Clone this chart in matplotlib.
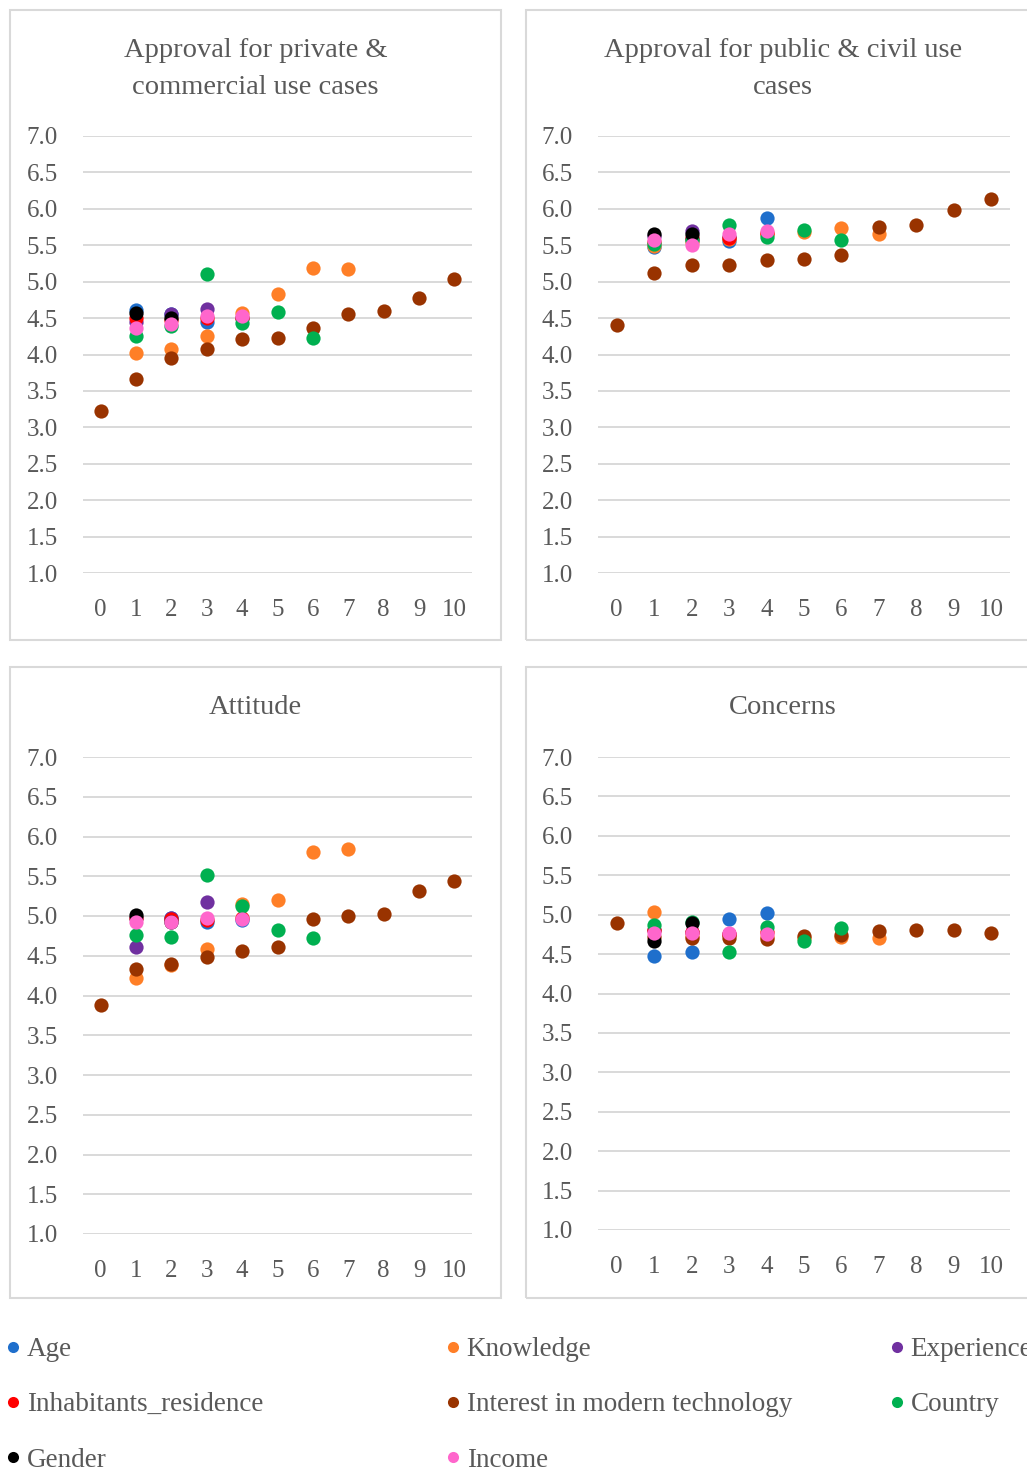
import matplotlib.pyplot as plt
from matplotlib.patches import Rectangle
from matplotlib.lines import Line2D

# panel titles
titles = ['Approval for private &\ncommercial use cases',
          'Approval for public & civil use\ncases',
          'Attitude',
          'Concerns']

series_names = ['Age', 'Knowledge', 'Experience', 'Inhabitants_residence',
                'Interest in modern technology', 'Country', 'Gender', 'Income']
colors = ['#1F6FCC', '#FF7F27', '#7030A0', '#FF0000',
          '#993300', '#00B050', '#000000', '#FF66CC']

# category positions of each grouping variable
age_x = [1, 2, 3, 4]
knowledge_x = [1, 2, 3, 4, 5, 6, 7]
experience_x = [1, 2, 3]
inhabitants_x = [1, 2, 3, 4]
interest_x = [0, 1, 2, 3, 4, 5, 6, 7, 8, 9, 10]
country_x = [1, 2, 3, 4, 5, 6]
gender_x = [1, 2]
income_x = [1, 2, 3, 4]

# mean values, one row per panel (private, public, attitude, concerns)
age = [[4.61, 4.55, 4.45, 4.50],
       [5.47, 5.58, 5.56, 5.88],
       [4.98, 4.97, 4.93, 4.95],
       [4.47, 4.53, 4.94, 5.02]]
knowledge = [[4.02, 4.08, 4.25, 4.57, 4.83, 5.19, 5.17],
             [5.49, 5.55, 5.59, 5.66, 5.68, 5.73, 5.66],
             [4.22, 4.38, 4.58, 5.15, 5.20, 5.81, 5.84],
             [5.04, 4.73, 4.74, 4.72, 4.71, 4.72, 4.70]]
experience = [[4.45, 4.55, 4.63],
              [5.63, 5.69, 5.62],
              [4.61, 4.98, 5.17],
              [4.80, 4.78, 4.76]]
inhabitants = [[4.50, 4.47, 4.50, 4.50],
               [5.55, 5.60, 5.60, 5.67],
               [4.97, 4.96, 4.95, 4.97],
               [4.80, 4.78, 4.75, 4.78]]
interest = [[3.23, 3.66, 3.95, 4.07, 4.21, 4.23, 4.37, 4.55, 4.60, 4.77, 5.03],
            [4.41, 5.12, 5.23, 5.23, 5.30, 5.31, 5.37, 5.75, 5.78, 5.98, 6.14],
            [3.88, 4.33, 4.40, 4.49, 4.56, 4.61, 4.96, 5.00, 5.02, 5.31, 5.44],
            [4.89, 4.72, 4.70, 4.71, 4.69, 4.73, 4.74, 4.79, 4.80, 4.81, 4.77]]
country = [[4.25, 4.39, 5.10, 4.43, 4.59, 4.23],
           [5.52, 5.57, 5.78, 5.62, 5.71, 5.57],
           [4.76, 4.73, 5.52, 5.12, 4.83, 4.72],
           [4.87, 4.91, 4.53, 4.84, 4.67, 4.83]]
gender = [[4.57, 4.50],
          [5.66, 5.65],
          [5.01, 4.93],
          [4.66, 4.89]]
income = [[4.37, 4.42, 4.53, 4.53],
          [5.57, 5.50, 5.65, 5.69],
          [4.92, 4.93, 4.98, 4.96],
          [4.77, 4.77, 4.77, 4.75]]

xs = [age_x, knowledge_x, experience_x, inhabitants_x, interest_x, country_x, gender_x, income_x]
ys = [age, knowledge, experience, inhabitants, interest, country, gender, income]

yticks = [1.0, 1.5, 2.0, 2.5, 3.0, 3.5, 4.0, 4.5, 5.0, 5.5, 6.0, 6.5, 7.0]
xticks = list(range(11))

W, H = 1027, 1470
TXT = '#595959'
GRID = '#D9D9D9'
plt.rcParams['font.family'] = ['Liberation Serif', 'DejaVu Serif']

fig = plt.figure(figsize=(W / 100, H / 100), dpi=100)

# axes rectangles in pixels: left, top, right, bottom (grid area)
ax_px = [(83, 136, 472, 573), (598, 136, 1010, 573),
         (83, 757, 472, 1234), (598, 757, 1010, 1230)]
# panel frames in pixels
box_px = [(10, 10, 501, 640), (526, 10, 1040, 640),
          (10, 667, 501, 1298), (526, 667, 1040, 1298)]
title_y = [69, 69, 708, 708]

for i in range(4):
    bx0, by0, bx1, by1 = box_px[i]
    fig.patches.append(Rectangle((bx0 / W, 1 - by1 / H), (bx1 - bx0) / W, (by1 - by0) / H,
                                 transform=fig.transFigure, fill=False,
                                 edgecolor=GRID, linewidth=1.5))
    l, t, r, b = ax_px[i]
    ax = fig.add_axes([l / W, 1 - b / H, (r - l) / W, (b - t) / H])
    for xv, yv, c in zip(xs, ys, colors):
        ax.scatter(xv, yv[i], s=105, color=c, zorder=3, linewidths=0)
    ax.set_xlim(-0.5, 10.5)
    ax.set_ylim(1.0, 7.0)
    ax.set_yticks(yticks)
    ax.set_yticklabels(['%.1f' % v for v in yticks])
    ax.set_xticks(xticks)
    for s in ax.spines.values():
        s.set_visible(False)
    ax.grid(axis='y', color=GRID, linewidth=1.4)
    ax.set_axisbelow(True)
    ax.tick_params(length=0, labelsize=18, labelcolor=TXT)
    ax.tick_params(axis='y', pad=18)
    ax.tick_params(axis='x', pad=19)
    fig.text((bx0 + bx1) / 2 / W, 1 - title_y[i] / H, titles[i], ha='center', va='center',
             fontsize=20.5, color=TXT, linespacing=1.65)

# legend: three columns
handles = [Line2D([], [], marker='o', linestyle='none', markersize=8,
                  markerfacecolor=c, markeredgewidth=0) for c in colors]
cols = [[0, 3, 6], [1, 4, 7], [2, 5]]
col_x = [5, 445, 889]
for idx, cx in zip(cols, col_x):
    fig.legend([handles[k] for k in idx], [series_names[k] for k in idx],
               loc='upper left', bbox_to_anchor=(cx / W, 1 - 1337 / H),
               frameon=False, fontsize=19.5, labelcolor=TXT,
               handlelength=0.6, handletextpad=0.2, labelspacing=1.12,
               borderpad=0, borderaxespad=0)

fig.savefig('out.png', dpi=100)
